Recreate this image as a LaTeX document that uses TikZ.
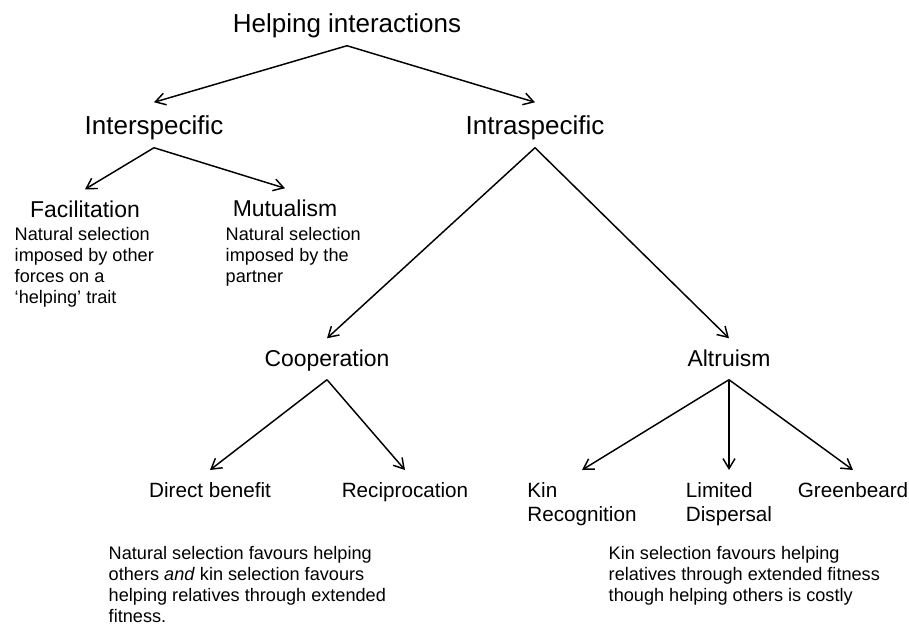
\documentclass[tikz,border=0pt]{standalone}
\usepackage{fontspec}
\setmainfont{Liberation Sans}
\usetikzlibrary{positioning,arrows.meta}

\begin{document}
\begin{tikzpicture}[x=0.75pt,y=-0.75pt,
    >={Straight Barb[length=7.5pt,width=9pt]}, line width=1.1pt,
    lvlone/.style={anchor=base,font=\fontsize{19.5}{23}\selectfont,text height=18.75pt,text depth=3.75pt,inner ysep=5.25pt},
    lvltwo/.style={anchor=base,font=\fontsize{17.2}{20}\selectfont,text height=15.75pt,text depth=3.75pt,inner ysep=5.25pt},
    leaf/.style={anchor=north,align=left,font=\fontsize{15.5}{18}\selectfont,inner ysep=9pt},
    desc/.style={anchor=north west,align=left,inner sep=0pt,font=\fontsize{13.6}{15.75}\selectfont}]
    \useasboundingbox (0,0) rectangle (909,630);
    % top levels
    \node[lvlone] (help) at (347,33) {Helping interactions};
    \node[lvlone] (inter) at (154,135) {Interspecific};
    \node[lvlone] (intra) at (535,135) {Intraspecific};
    \node[lvltwo] (facil) at (85,218) {Facilitation};
    \node[lvltwo] (mutu) at (285,217) {Mutualism};
    \node[lvltwo] (coop) at (327,367) {Cooperation};
    \node[lvltwo] (altr) at (729,367) {Altruism};
    % leaves
    \node[leaf] (direct) at (210,470) {Direct benefit};
    \node[leaf] (recip) at (405,470) {Reciprocation};
    \node[leaf] (kin) at (582,470) {Kin\\Recognition};
    \node[leaf] (limit) at (729,470) {Limited\\Dispersal};
    \node[leaf] (green) at (853,470) {Greenbeard};
    % explanations
    \node[desc] (facdesc) at (14,227) {Natural selection\\imposed by other\\forces on a\\`helping' trait};
    \node[desc] (mutdesc) at (225,227) {Natural selection\\imposed by the\\partner};
    \node[desc] (coopdesc) at (108,546) {Natural selection favours helping\\others \textit{and} kin selection favours\\helping relatives through extended\\fitness.};
    \node[desc] (altrdesc) at (608,546) {Kin selection favours helping\\relatives through extended fitness\\though helping others is costly};
    % arrows
    \draw[->] (help.south) -- (inter.north);
    \draw[->] (help.south) -- (intra.north);
    \draw[->] (inter.south) -- (facil.north);
    \draw[->] (inter.south) -- (mutu.north);
    \draw[->] (intra.south) -- (coop.north);
    \draw[->] (intra.south) -- (altr.north);
    \draw[->] (coop.south) -- (direct.north);
    \draw[->] (coop.south) -- (recip.north);
    \draw[->] (altr.south) -- (kin.north);
    \draw[->] (altr.south) -- (limit.north);
    \draw[->] (altr.south) -- (green.north);
\end{tikzpicture}
\end{document}
